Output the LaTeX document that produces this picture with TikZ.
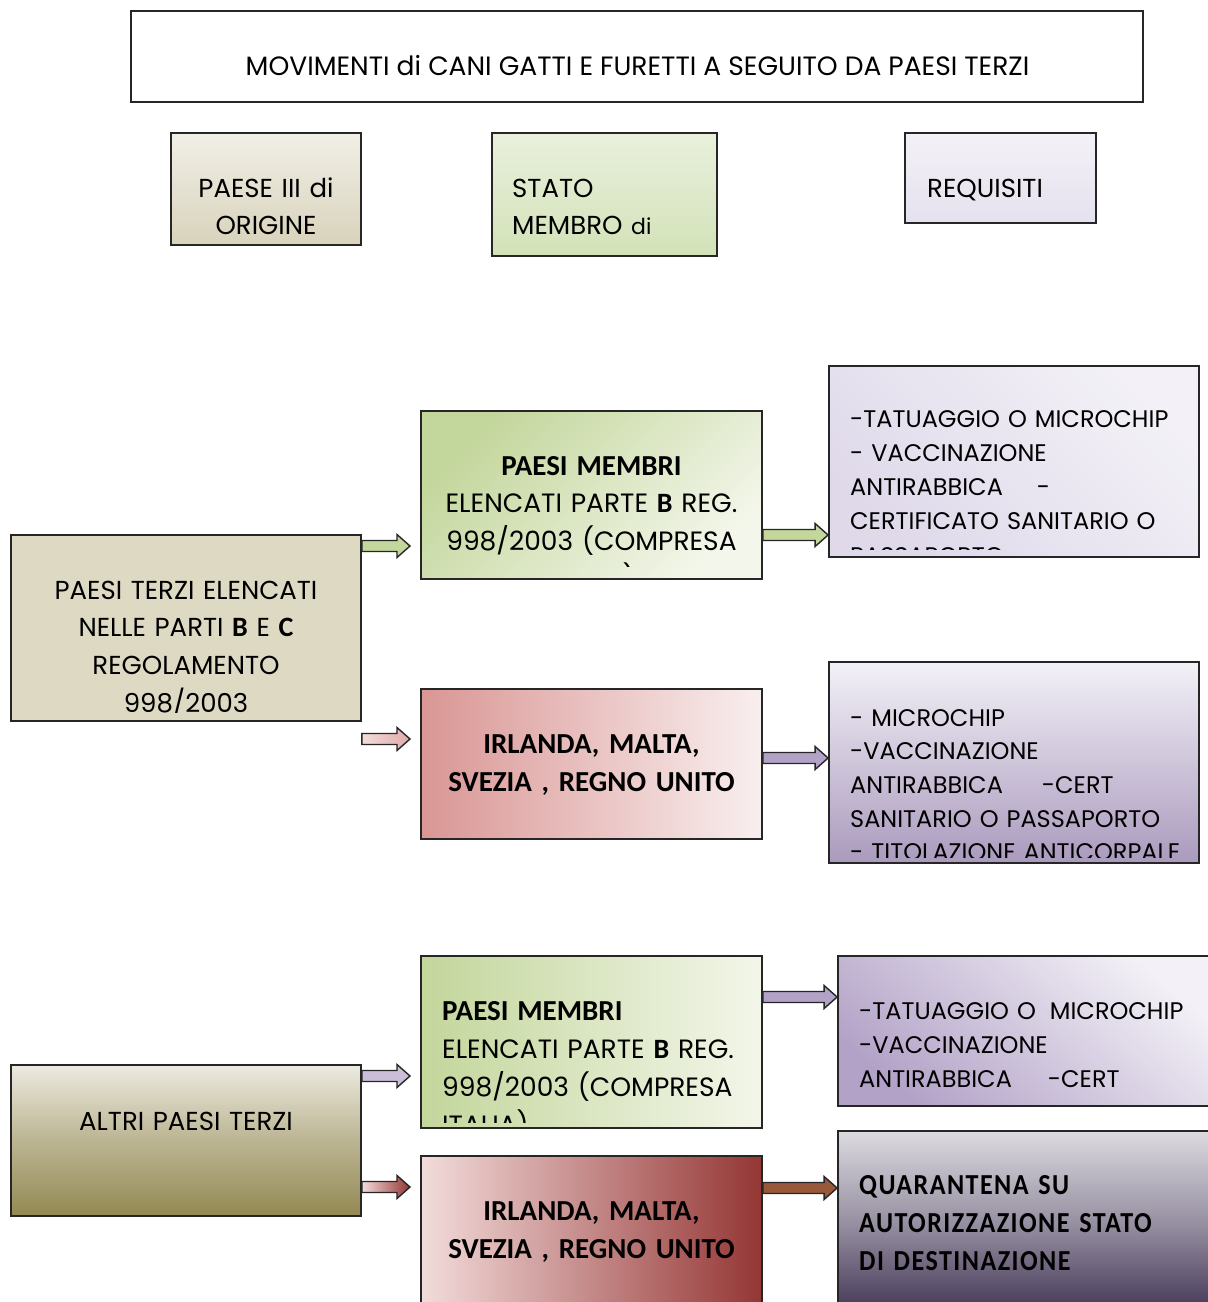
\documentclass[tikz,border=0pt]{standalone}
\usepackage{fontspec}
\setmainfont{Poppins}
\newfontfamily\cb{Carlito}
\newfontfamily\cc[FakeStretch=0.9,LetterSpace=5]{Carlito}
\usetikzlibrary{calc}
\definecolor{tanA}{HTML}{DDD9C3}
\definecolor{tanL}{HTML}{F1EFE6}
\definecolor{tanD}{HTML}{D9D3BC}
\definecolor{olive}{HTML}{938953}
\definecolor{oliveL}{HTML}{ECEADF}
\definecolor{grn}{HTML}{C3D69B}
\definecolor{grnL}{HTML}{F3F6EA}
\definecolor{grnH}{HTML}{D3E2B8}
\definecolor{grnHL}{HTML}{E9F0DD}
\definecolor{lav}{HTML}{B3A2C7}
\definecolor{lavL}{HTML}{F3F1F7}
\definecolor{lavM}{HTML}{DFD9EA}
\definecolor{pnk}{HTML}{D99694}
\definecolor{pnkL}{HTML}{F9EFEF}
\definecolor{pnkA}{HTML}{F2DCDB}
\definecolor{rd}{HTML}{943634}
\definecolor{dkp}{HTML}{3D3050}
\definecolor{gryL}{HTML}{DCDAE0}
\definecolor{brn}{HTML}{99583A}
\newcommand\blockarrow[3]{%
  \path[draw=black!85,line width=1.4pt,#3] let \p1=(#1),\p2=(#2) in
    (\x1,\y1+5.5pt) -- (\x2-13pt,\y1+5.5pt) -- (\x2-13pt,\y1+11.5pt) -- (\x2,\y1)
    -- (\x2-13pt,\y1-11.5pt) -- (\x2-13pt,\y1-5.5pt) -- (\x1,\y1-5.5pt) -- cycle;}
\begin{document}
\begin{tikzpicture}[x=1pt,y=-1pt,
  box/.style={draw=black!85, line width=1.8pt, inner sep=0pt},
  txt/.style={inner sep=0pt, font=\fontsize{26}{37}\selectfont},
  tl/.style={txt, anchor=base west, text width=420pt, align=left},
  tc/.style={txt, anchor=base, text width=420pt, align=center},
]
\clip (0,0) rectangle (1208,1302);
\fill[white] (0,0) rectangle (1208,1302);

% header
\node[box, fill=white, minimum width=1012, minimum height=91] (title) at (637,56.5) {};
\node[txt, anchor=base, font=\fontsize{26.5}{37}\selectfont] (titlet) at (637.5,75) {MOVIMENTI di CANI GATTI E FURETTI A SEGUITO DA PAESI TERZI};

\node[box, top color=tanL, bottom color=tanD, minimum width=190, minimum height=112] (h1) at (266,189) {};
\node[tc] (h1t) at (266,197) {PAESE III di\\ORIGINE};

\node[box, top color=grnHL, bottom color=grnH, minimum width=225, minimum height=123] (h2) at (604.5,194.5) {};
\node[tl] (h2t) at (512,197) {STATO\\MEMBRO {\fontsize{22}{37}\selectfont di}};

\node[box, top color=lavL, bottom color=lavM!80, minimum width=191, minimum height=90] (h3) at (1000.5,178) {};
\node[tl] (h3t) at (927,197) {REQUISITI};

% group 1
\node[box, fill=tanA, minimum width=350, minimum height=186] (A) at (186,628) {};
\begin{scope}
\clip (A.north west) rectangle (361,712);
\node[tc, font=\fontsize{26}{37.7}\selectfont] (At) at (186,599) {PAESI TERZI ELENCATI\\NELLE PARTI {\cb\bfseries\fontsize{28}{37}\selectfont B} E {\cb\bfseries\fontsize{28}{37}\selectfont C}\\REGOLAMENTO\\998/2003};
\end{scope}

\node[box, top color=grn, bottom color=grnL, shading angle=45, minimum width=341, minimum height=168] (B1) at (591.5,495) {};
\begin{scope}
\clip (B1.north west) rectangle (762,566);
\node[tc, font=\fontsize{26.5}{37.5}\selectfont] (B1t) at (591.5,475) {{\cb\bfseries\fontsize{29}{37.5}\selectfont PAESI MEMBRI}\\ELENCATI PARTE {\cb\bfseries\fontsize{28}{37}\selectfont B} REG.\\998/2003 (COMPRESA\\ITALIA)};
\end{scope}

\node[box, top color=lavL, bottom color=lavM, shading angle=-45, minimum width=370, minimum height=191] (R1) at (1014,461.5) {};
\begin{scope}
\clip (R1.north west) rectangle (1199,549);
\node[tl, font=\fontsize{24}{34.3}\selectfont] (R1t) at (850,427) {-TATUAGGIO O MICROCHIP\\- VACCINAZIONE\\ANTIRABBICA\hspace{34pt}-\\CERTIFICATO SANITARIO O\\PASSAPORTO};
\end{scope}

\node[box, left color=pnk, right color=pnkL, minimum width=341, minimum height=150] (B2) at (591.5,764) {};
\node[tc, font=\cb\bfseries\fontsize{29}{38}\selectfont] (B2t) at (591.5,753) {IRLANDA, MALTA,\\SVEZIA , REGNO UNITO};

\node[box, top color=lavL, bottom color=lav!95!black, minimum width=370, minimum height=201] (R2) at (1014,762.5) {};
\begin{scope}
\clip (R2.north west) rectangle (1199,857);
\node[tl, font=\fontsize{24}{33.7}\selectfont] (R2t) at (850,726) {- MICROCHIP\\-VACCINAZIONE\\ANTIRABBICA\hspace{39pt}-CERT\\SANITARIO O PASSAPORTO\\- TITOLAZIONE ANTICORPALE};
\end{scope}

\coordinate (p1) at (410,546);
\coordinate (p2) at (410,739);
\coordinate (p3) at (0,535);
\coordinate (p4) at (0,758);
\blockarrow{A.east |- p1}{p1}{fill=grn}
\blockarrow{A.east |- p2}{p2}{left color=pnkA, right color=pnk!80}
\blockarrow{B1.east |- p3}{R1.west |- p3}{fill=grn}
\blockarrow{B2.east |- p4}{R2.west |- p4}{fill=lav}

% group 2
\node[box, top color=oliveL, bottom color=olive, middle color=olive!55!oliveL, minimum width=350, minimum height=151] (C) at (186,1140.5) {};
\node[tc] (Ct) at (186,1130) {ALTRI PAESI TERZI};

\node[box, left color=grn, right color=grnL, minimum width=341, minimum height=172] (B3) at (591.5,1042) {};
\begin{scope}
\clip (B3.north west) rectangle (762,1122);
\node[tl, font=\fontsize{26.5}{38}\selectfont] (B3t) at (442,1020) {{\cb\bfseries\fontsize{29}{38}\selectfont PAESI MEMBRI}\\ELENCATI PARTE {\cb\bfseries\fontsize{28}{37}\selectfont B} REG.\\998/2003 (COMPRESA\\ITALIA)};
\end{scope}

\node[box, top color=lavL, bottom color=lav, shading angle=-40, minimum width=377, minimum height=150] (R3) at (1026.5,1031) {};
\node[tl, font=\fontsize{24}{34}\selectfont] (R3t) at (859,1019) {-TATUAGGIO O\hspace{6pt} MICROCHIP\\-VACCINAZIONE\\ANTIRABBICA\hspace{36pt}-CERT};

\node[box, left color=pnkA, right color=rd, minimum width=341, minimum height=164] (B4) at (591.5,1238) {};
\node[tc, font=\cb\bfseries\fontsize{29}{38}\selectfont] (B4t) at (591.5,1220) {IRLANDA, MALTA,\\SVEZIA , REGNO UNITO};

\node[box, top color=gryL, bottom color=dkp, middle color=gryL!55!dkp, minimum width=377, minimum height=189] (R4) at (1026.5,1225.5) {};
\node[tl, font=\cc\bfseries\fontsize{29}{38}\selectfont] (R4t) at (859,1194) {QUARANTENA SU\\AUTORIZZAZIONE STATO\\DI DESTINAZIONE};

\coordinate (q1) at (410,1076);
\coordinate (q2) at (410,1187);
\coordinate (q3) at (0,997);
\coordinate (q4) at (0,1188);
\blockarrow{C.east |- q1}{q1}{fill=lav!70!white}
\blockarrow{C.east |- q2}{q2}{left color=pnkA, right color=rd}
\blockarrow{B3.east |- q3}{R3.west |- q3}{fill=lav}
\blockarrow{B4.east |- q4}{R4.west |- q4}{fill=brn}
\end{tikzpicture}
\end{document}
